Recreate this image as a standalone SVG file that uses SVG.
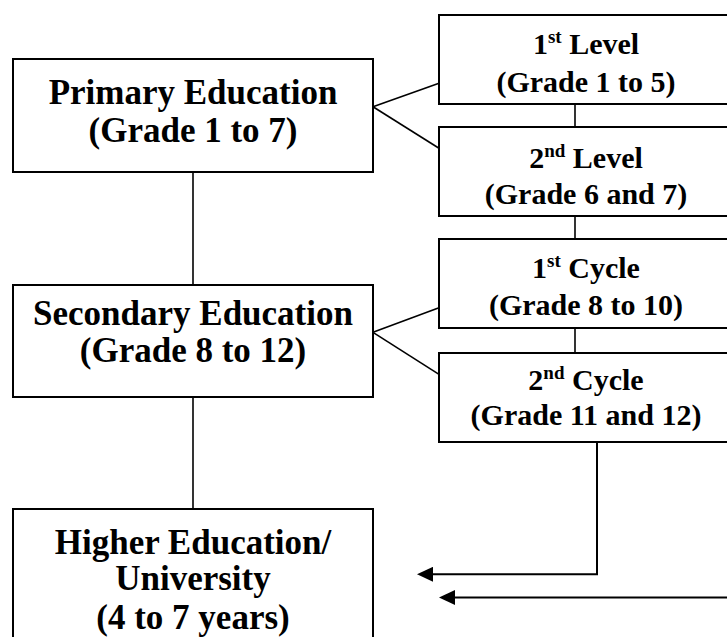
<svg xmlns="http://www.w3.org/2000/svg" width="727" height="637" viewBox="0 0 727 637">
<style>
.box{fill:#fff;stroke:#000;stroke-width:2}
.ln{fill:none;stroke:#000;stroke-width:1.6}
.ar{fill:none;stroke:#000;stroke-width:2}
.big{font-family:"Liberation Serif","Times New Roman",serif;font-weight:bold;font-size:35px;text-anchor:middle;fill:#000}
.sm{font-family:"Liberation Serif","Times New Roman",serif;font-weight:bold;font-size:30px;text-anchor:middle;fill:#000}
.sup{font-size:19px}
</style>
<defs>
<marker id="ah" markerUnits="userSpaceOnUse" markerWidth="16" markerHeight="15" refX="0" refY="7.5" orient="auto">
<path d="M0,0 L16,7.5 L0,15 Z" fill="#000"/>
</marker>
</defs>
<rect width="727" height="637" fill="#fff"/>
<g id="connectors">
<line class="ln" x1="193" y1="172" x2="193" y2="285"/>
<line class="ln" x1="193" y1="397" x2="193" y2="509"/>
<line class="ln" x1="373" y1="106.7" x2="439" y2="83.3"/>
<line class="ln" x1="373" y1="106.7" x2="439" y2="148.3"/>
<line class="ln" x1="373" y1="332.3" x2="439" y2="307.7"/>
<line class="ln" x1="373" y1="332.3" x2="439" y2="374.3"/>
<line class="ln" x1="575" y1="104" x2="575" y2="127"/>
<line class="ln" x1="575" y1="216" x2="575" y2="239"/>
<line class="ln" x1="575" y1="328" x2="575" y2="353"/>
<path class="ar" d="M597,438 V574.3 H433" marker-end="url(#ah)"/>
<path class="ar" d="M727,597.5 H455" marker-end="url(#ah)"/>
</g>
<g id="primary">
<rect class="box" x="13" y="59" width="360" height="113"/>
<text class="big" x="193" y="104">Primary Education</text>
<text class="big" x="193" y="141.7">(Grade 1 to 7)</text>
</g>
<g id="secondary">
<rect class="box" x="13" y="285" width="360" height="112"/>
<text class="big" x="193" y="325">Secondary Education</text>
<text class="big" x="193" y="361.7">(Grade 8 to 12)</text>
</g>
<g id="higher">
<rect class="box" x="13" y="509" width="360" height="140"/>
<text class="big" x="193" y="554">Higher Education/</text>
<text class="big" x="193" y="590">University</text>
<text class="big" x="193" y="629">(4 to 7 years)</text>
</g>
<g id="level1">
<rect class="box" x="439" y="15" width="293" height="89"/>
<text class="sm" x="586" y="54">1<tspan class="sup" dy="-11">st</tspan><tspan dy="11"> Level</tspan></text>
<text class="sm" x="586" y="91.7">(Grade 1 to 5)</text>
</g>
<g id="level2">
<rect class="box" x="439" y="127" width="293" height="89"/>
<text class="sm" x="586" y="168">2<tspan class="sup" dy="-11">nd</tspan><tspan dy="11"> Level</tspan></text>
<text class="sm" x="586" y="204">(Grade 6 and 7)</text>
</g>
<g id="cycle1">
<rect class="box" x="439" y="239" width="293" height="89"/>
<text class="sm" x="586" y="278.3">1<tspan class="sup" dy="-11">st</tspan><tspan dy="11"> Cycle</tspan></text>
<text class="sm" x="586" y="315">(Grade 8 to 10)</text>
</g>
<g id="cycle2">
<rect class="box" x="439" y="353" width="293" height="89"/>
<text class="sm" x="586" y="390">2<tspan class="sup" dy="-11">nd</tspan><tspan dy="11"> Cycle</tspan></text>
<text class="sm" x="586" y="425">(Grade 11 and 12)</text>
</g>
</svg>
